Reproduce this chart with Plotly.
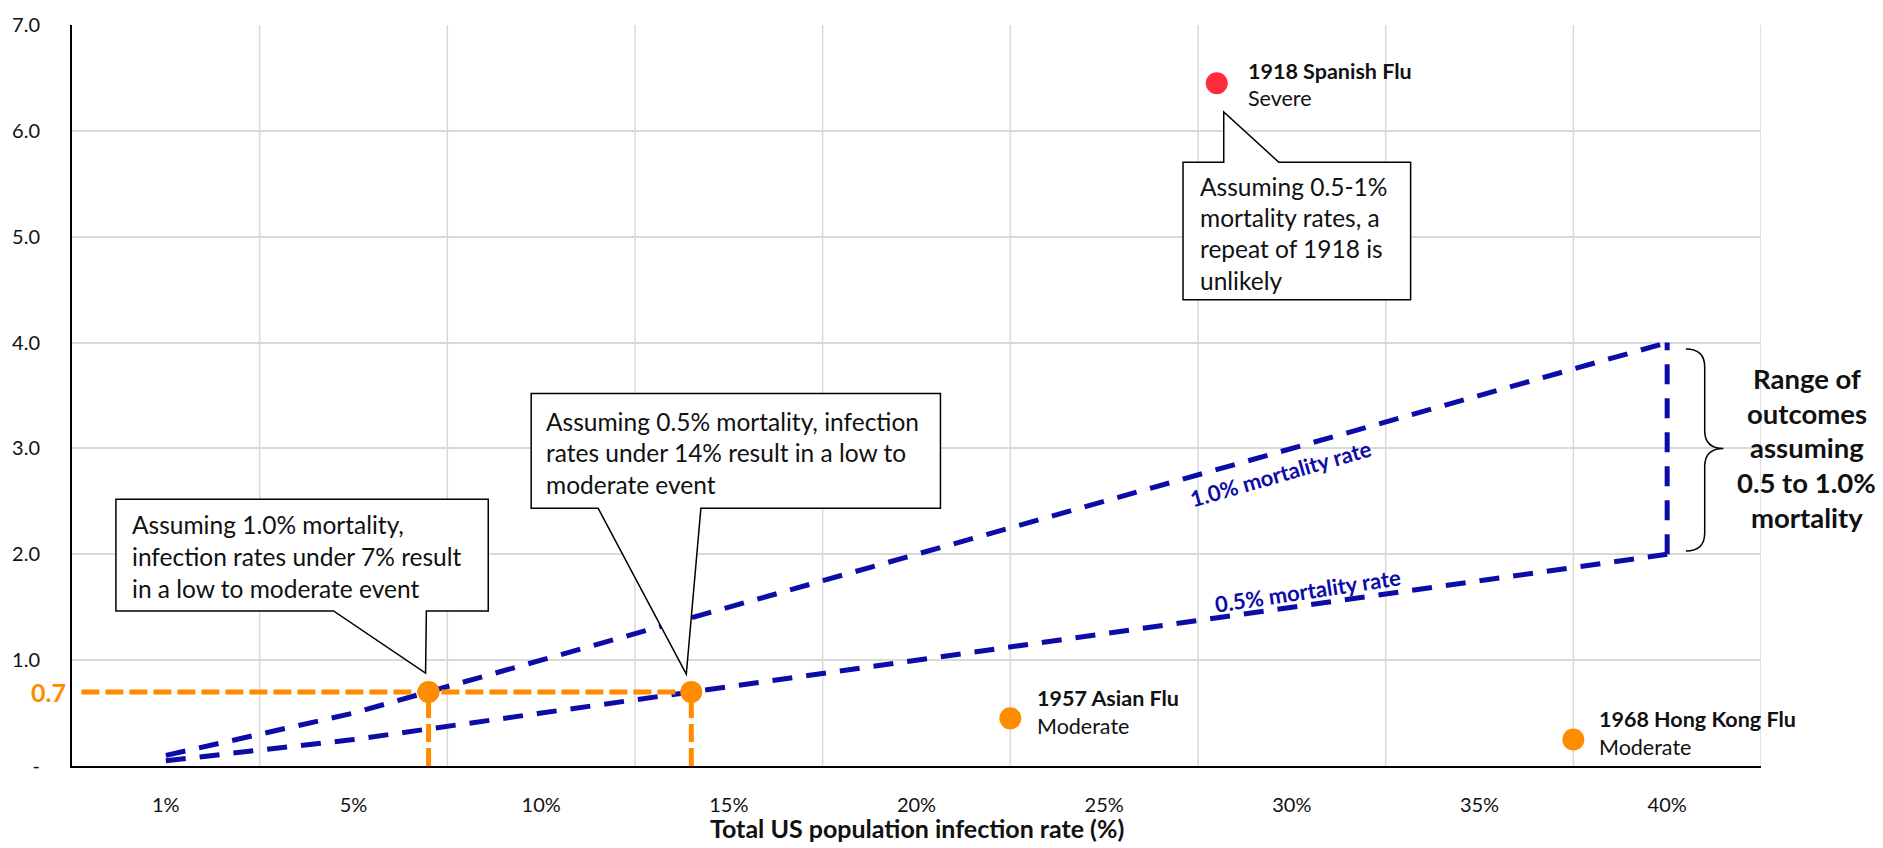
import numpy as np
import plotly.graph_objects as go

# Infection-rate categories along the x axis (%)
infection_rates = [1, 5, 10, 15, 20, 25, 30, 35, 40]
tick_labels = ["1%", "5%", "10%", "15%", "20%", "25%", "30%", "35%", "40%"]

# Outcome at each infection rate under the two mortality assumptions
outcome_mort_1_0 = [0.1, 0.5, 1.0, 1.5, 2.0, 2.5, 3.0, 3.5, 4.0]
outcome_mort_0_5 = [0.05, 0.25, 0.5, 0.75, 1.0, 1.25, 1.5, 1.75, 2.0]

# Low-to-moderate threshold and the infection rates that reach it
threshold_value = 0.7
threshold_rates = [7, 14]

# Historical pandemics
pandemic_names = ["1918 Spanish Flu", "1957 Asian Flu", "1968 Hong Kong Flu"]
pandemic_severity = ["Severe", "Moderate", "Moderate"]
pandemic_rates = [28, 22.5, 37.5]
pandemic_values = [6.45, 0.45, 0.25]

y_tick_values = [0, 1, 2, 3, 4, 5, 6, 7]
y_tick_labels = ["-", "1.0", "2.0", "3.0", "4.0", "5.0", "6.0", "7.0"]

# ---- styling -------------------------------------------------------------
BLUE = "#0C0CA8"
ORANGE = "#FF8C00"
RED = "#FF2B3F"
GRID = "#D9D9D9"
TEXT = "#111111"
FONT = "Lato"

FIG_W, FIG_H = 1883, 848
M_L, M_R, M_T, M_B = 69, 122, 16, 82
PW, PH = FIG_W - M_L - M_R, FIG_H - M_T - M_B
BOTTOM = FIG_H - M_B


def cat_pos(rate):
    """Position of an infection rate on the evenly spaced category axis."""
    return float(np.interp(rate, infection_rates, np.arange(len(infection_rates))))


def px_x(px):
    return (px - M_L) / PW


def px_y(py):
    return (BOTTOM - py) / PH


def x_to_px(xv):
    return M_L + (xv + 0.5) / len(infection_rates) * PW


def y_to_px(yv):
    return BOTTOM - yv / 7.0 * PH


def paper_path(points):
    parts = []
    for i, (a, b) in enumerate(points):
        parts.append(("M" if i == 0 else "L") + f" {px_x(a):.5f} {px_y(b):.5f}")
    return " ".join(parts) + " Z"


x_pos = [cat_pos(r) for r in infection_rates]
threshold_pos = [cat_pos(r) for r in threshold_rates]
pandemic_pos = [cat_pos(r) for r in pandemic_rates]

fig = go.Figure()

# mortality-rate scenario lines
for series in (outcome_mort_1_0, outcome_mort_0_5):
    fig.add_trace(go.Scatter(
        x=x_pos, y=series, mode="lines", hoverinfo="skip",
        line=dict(color=BLUE, width=5, dash="20px,14px"),
    ))
# range bar at the top infection rate
fig.add_trace(go.Scatter(
    x=[x_pos[-1], x_pos[-1]], y=[outcome_mort_0_5[-1], outcome_mort_1_0[-1]],
    mode="lines", hoverinfo="skip",
    line=dict(color=BLUE, width=5, dash="20px,14px"),
))

# threshold guides
fig.add_trace(go.Scatter(
    x=[-0.45, max(threshold_pos)], y=[threshold_value, threshold_value],
    mode="lines", hoverinfo="skip",
    line=dict(color=ORANGE, width=5, dash="18px,6px"),
))
for p in threshold_pos:
    fig.add_trace(go.Scatter(
        x=[p, p], y=[0, threshold_value], mode="lines", hoverinfo="skip",
        line=dict(color=ORANGE, width=5, dash="18px,6px"),
    ))
fig.add_trace(go.Scatter(
    x=threshold_pos, y=[threshold_value] * len(threshold_pos), mode="markers",
    marker=dict(color=ORANGE, size=22), hoverinfo="skip",
))

# historical pandemics
fig.add_trace(go.Scatter(
    x=pandemic_pos, y=pandemic_values, mode="markers",
    marker=dict(color=[RED, ORANGE, ORANGE], size=22),
    text=pandemic_names, hoverinfo="text",
))

annotations = []
shapes = []


def text_at(px, py, s, size, bold=False, color=TEXT, xanchor="left", angle=0):
    annotations.append(dict(
        xref="paper", yref="paper", x=px_x(px), y=px_y(py),
        text=f"<b>{s}</b>" if bold else s, showarrow=False,
        xanchor=xanchor, yanchor="middle", textangle=angle,
        font=dict(family=FONT, size=size, color=color),
    ))


# pandemic labels: (name offset, severity offset) from marker centre in px
label_offsets = [(29, -12, 15), (25, -21, 8), (24, -21, 8)]
for name, sev, p, v, (dx, dy1, dy2) in zip(pandemic_names, pandemic_severity,
                                          pandemic_pos, pandemic_values, label_offsets):
    cx, cy = x_to_px(p), y_to_px(v)
    text_at(cx + dx, cy + dy1, name, 21.5, bold=True)
    text_at(cx + dx, cy + dy2, sev, 21.5)

# vertical category gridlines
for k in range(len(infection_rates)):
    shapes.append(dict(type="line", xref="x", yref="y", x0=k + 0.5, x1=k + 0.5,
                       y0=0, y1=7, line=dict(color=GRID, width=1.5), layer="below"))

# callout boxes
CALLOUT = dict(type="path", xref="paper", yref="paper",
               line=dict(color="#000000", width=1.5), fillcolor="white", layer="above")
CALLOUT_SIZE = 24.5

t1x, t1y = x_to_px(threshold_pos[0]), y_to_px(threshold_value)
box1 = [(113, 496), (486, 496), (486, 609), (424, 609), (t1x - 3, t1y - 19),
        (331, 609), (113, 609)]
shapes.append(dict(CALLOUT, path=paper_path(box1)))
for i, line in enumerate(["Assuming 1.0% mortality,",
                          "infection rates under 7% result",
                          "in a low to moderate event"]):
    text_at(127, 522 + 32 * i, line, CALLOUT_SIZE)

t2x, t2y = x_to_px(threshold_pos[1]), y_to_px(threshold_value)
box2 = [(529, 389), (939, 389), (939, 505), (699, 505), (t2x - 5, t2y - 18),
        (596, 505), (529, 505)]
shapes.append(dict(CALLOUT, path=paper_path(box2)))
for i, line in enumerate(["Assuming 0.5% mortality, infection",
                          "rates under 14% result in a low to",
                          "moderate event"]):
    text_at(542, 417 + 32 * i, line, CALLOUT_SIZE)

sx, sy = x_to_px(pandemic_pos[0]), y_to_px(pandemic_values[0])
box3 = [(1182, 155), (sx + 7, 155), (sx + 7, sy + 29), (1278, 155), (1410, 155),
        (1410, 294), (1182, 294)]
shapes.append(dict(CALLOUT, path=paper_path(box3)))
for i, line in enumerate(["Assuming 0.5-1%", "mortality rates, a",
                          "repeat of 1918 is", "unlikely"]):
    text_at(1197, 179 + 31.7 * i, line, CALLOUT_SIZE)

# brace spanning the range of outcomes at 40%
hi, lo = outcome_mort_1_0[-1], outcome_mort_0_5[-1]
mid = (hi + lo) / 2
bx0, bx1, bx2 = 8.10, 8.20, 8.30
top, bot = hi - 0.06, lo + 0.03
r = 0.17
brace = (f"M {bx0} {top} Q {bx1} {top} {bx1} {top - r} L {bx1} {mid + r} "
         f"Q {bx1} {mid} {bx2} {mid} Q {bx1} {mid} {bx1} {mid - r} "
         f"L {bx1} {bot + r} Q {bx1} {bot} {bx0} {bot}")
shapes.append(dict(type="path", xref="x", yref="y", path=brace,
                   line=dict(color="#000000", width=1.5)))
for i, line in enumerate(["Range of", "outcomes", "assuming", "0.5 to 1.0%", "mortality"]):
    text_at(1807, 374 + 35 * i, line, 27.5, bold=True, xanchor="center")

# line labels
annotations.append(dict(xref="x", yref="y", x=5.94, y=2.76, text="<b>1.0% mortality rate</b>",
                        showarrow=False, textangle=-16,
                        font=dict(family=FONT, size=22, color=BLUE)))
annotations.append(dict(xref="x", yref="y", x=6.085, y=1.66, text="<b>0.5% mortality rate</b>",
                        showarrow=False, textangle=-8.5,
                        font=dict(family=FONT, size=22, color=BLUE)))

# threshold value on the y axis
annotations.append(dict(xref="paper", yref="y", x=px_x(65), y=threshold_value,
                        text=f"<b>{threshold_value}</b>", showarrow=False,
                        xanchor="right", yanchor="middle",
                        font=dict(family=FONT, size=25, color=ORANGE)))

# x axis title
text_at(M_L + PW / 2, 829, "Total US population infection rate (%)", 25, bold=True,
        xanchor="center")

fig.update_layout(
    width=FIG_W, height=FIG_H,
    margin=dict(l=M_L, r=M_R, t=M_T, b=M_B),
    paper_bgcolor="white", plot_bgcolor="white",
    showlegend=False,
    font=dict(family=FONT, color=TEXT),
    annotations=annotations, shapes=shapes,
    xaxis=dict(range=[-0.5, len(infection_rates) - 0.5], tickmode="array",
               tickvals=list(range(len(infection_rates))), ticktext=tick_labels,
               showgrid=False, zeroline=False, showline=True, linecolor="#000000",
               linewidth=2, ticks="", ticklabelstandoff=20,
               tickfont=dict(family=FONT, size=20, color=TEXT)),
    yaxis=dict(range=[0, 7], tickmode="array", tickvals=y_tick_values,
               ticktext=y_tick_labels, showgrid=True, gridcolor=GRID, gridwidth=1.5,
               zeroline=False, showline=True, linecolor="#000000", linewidth=2,
               ticks="", ticklabelstandoff=26,
               tickfont=dict(family=FONT, size=20, color=TEXT)),
)

fig.write_html("out.html")
